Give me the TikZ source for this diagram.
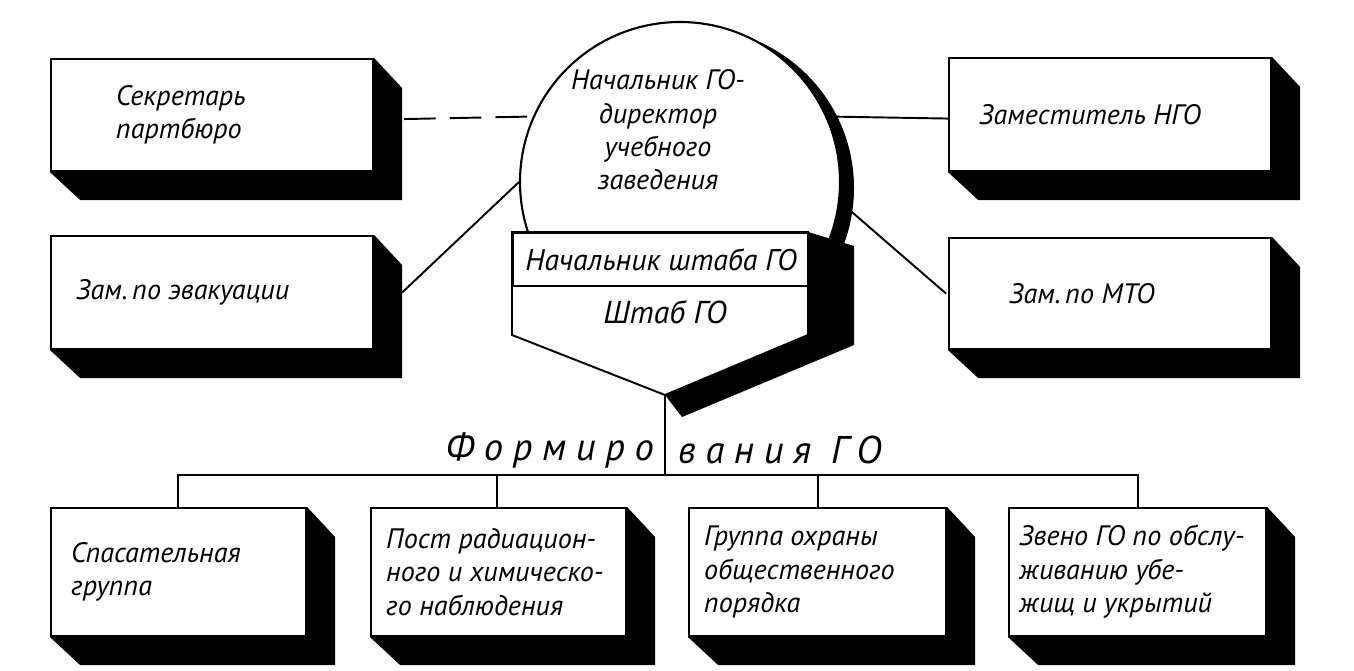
\documentclass[tikz,border=0pt]{standalone}
\usepackage{fontspec}
\setmainfont{PT Sans}
\usetikzlibrary{positioning, calc}

\tikzset{
    blok/.style={draw, line width=1.2pt, fill=white, anchor=north west, align=left,
        inner sep=0pt, font=\fontsize{16}{19}\selectfont\itshape},
    linia/.style={line width=1.1pt},
    ten/.style={fill=black}
}
\newcommand{\shbox}[7]{% name, x1, y1, width, height, text-x-shift, text
    \node[blok, minimum width=#4*0.02cm, minimum height=#5*0.02cm] (#1) at (#2,#3) {};
    \node[anchor=west, font=\fontsize{16}{19}\selectfont\itshape, align=left] at ($(#1.west)+(#6,0)$) {#7};
    \fill[ten] (#1.north east) -- ++(28,30) -- ++(0,#5) -- ++(-#4,0) -- (#1.south west) -- (#1.south east) -- cycle;
}

\begin{document}
\begin{tikzpicture}[x=0.02cm, y=-0.02cm]
    \useasboundingbox (0,0) rectangle (1354,670);
    % upper boxes
    \shbox{sekr}{50}{58}{322}{112}{60}{Секретарь\\партбюро}
    \shbox{evak}{50}{235}{322}{113}{20}{Зам.\,по эвакуации}
    \shbox{zam}{948}{57}{322}{113}{25}{Заместитель НГО}
    \shbox{mto}{948}{237}{322}{111}{55}{Зам.\,по МТО}
    % lower boxes
    \shbox{spas}{50}{507}{255}{128}{15}{Спасательная\\группа}
    \shbox{post}{370}{507}{255}{128}{10}{Пост радиацион-\\ного и химическо-\\го наблюдения}
    \shbox{ohr}{688}{507}{257}{128}{10}{Группа охраны\\общественного\\порядка}
    \shbox{zveno}{1008}{507}{257}{128}{5}{Звено ГО по обслу-\\живанию убе-\\жищ и укрытий}
    % central chief
    \fill[ten] (694,188) circle (160);
    \node[draw, line width=1.2pt, fill=white, circle, minimum size=320*0.02cm] (nach) at (680,182) {};
    \node[align=center, font=\fontsize{16}{19}\selectfont\itshape] at (658,130) {Начальник ГО-\\директор\\учебного\\заведения};
    \fill[ten] (808,232) -- (854,246) -- (854,345) -- (682,417) -- (665,395) -- (808,335) -- cycle;
    \draw[linia, fill=white] (512,232) -- (808,232) -- (808,335) -- (665,395) -- (512,335) -- cycle;
    \node[draw, line width=1.2pt, anchor=north west, minimum width=296*0.02cm, minimum height=53*0.02cm,
        font=\fontsize{17}{19}\selectfont\itshape] (nsh) at (512,232) {Начальник штаба ГО};
    \node[font=\fontsize{18}{19}\selectfont\itshape] (shtab) at (665,312) {Штаб ГО};
    \coordinate (tip) at (665,395);
    % links
    \draw[linia, dashed, dash pattern=on 18pt off 8pt] ($(sekr.east)+(30,4)$) -- (nach.156);
    \draw[linia] (nach.24) -- ($(zam.west)+(0,4)$);
    \draw[linia] ($(evak.east)+(28,0)$) -- (nach.180);
    \draw[linia] (nach.-7) -- ($(mto.west)+(-2,0)$);
    % formations
    \node[anchor=east, font=\fontsize{22}{24}\selectfont\itshape\addfontfeature{LetterSpace=25}] (form1) at (660,450) {Формиро};
    \node[anchor=west, font=\fontsize{22}{24}\selectfont\itshape\addfontfeature{LetterSpace=25}] (form2) at (672,450) {вания ГО};
    \coordinate (bus) at (665,475);
    \draw[linia] (tip) -- (bus);
    \draw[linia] (spas.north -| 178,0) |- (bus) -| (zveno.north -| 1138,0);
    \draw[linia] (post.north -| 497,0) -- (497,475);
    \draw[linia] (ohr.north -| 818,0) -- (818,475);
\end{tikzpicture}
\end{document}
